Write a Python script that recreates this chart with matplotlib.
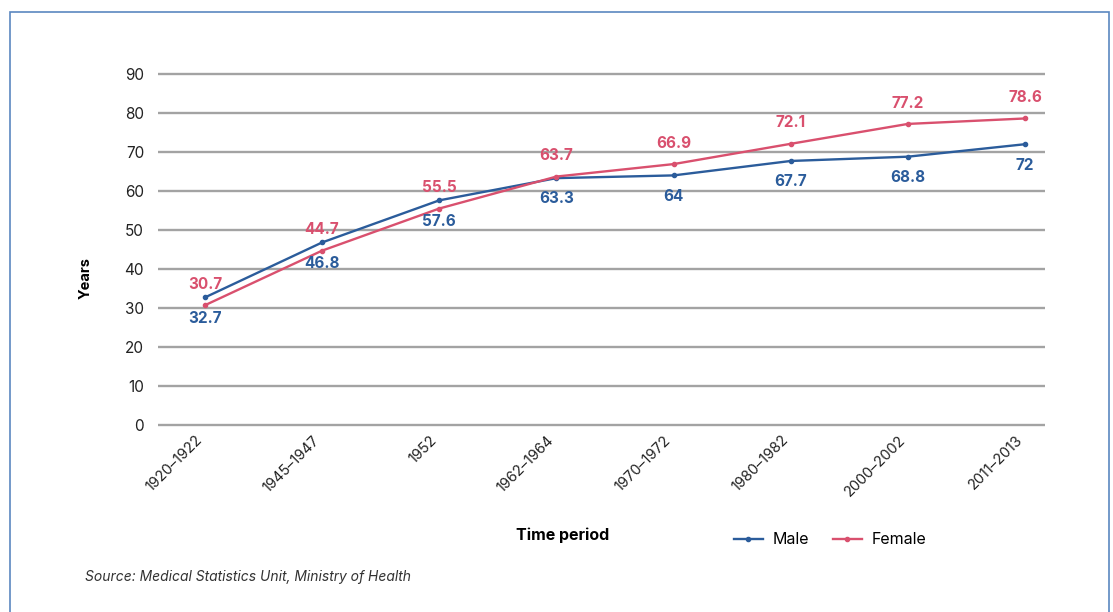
import matplotlib
matplotlib.use('Agg')
import matplotlib.pyplot as plt
from matplotlib.patches import Rectangle

periods = ['1920–1922', '1945–1947', '1952', '1962–1964', '1970–1972',
           '1980–1982', '2000–2002', '2011–2013']
male = [32.7, 46.8, 57.6, 63.3, 64, 67.7, 68.8, 72]
female = [30.7, 44.7, 55.5, 63.7, 66.9, 72.1, 77.2, 78.6]
yticks = [0, 10, 20, 30, 40, 50, 60, 70, 80, 90]

MALE_C = '#2b5c9b'
FEMALE_C = '#d9506e'

plt.rcParams['font.family'] = ['Inter', 'DejaVu Sans']

W, H = 1113, 612
fig = plt.figure(figsize=(W / 100, H / 100), dpi=100)
ax = fig.add_axes([158 / W, 1 - 428.9 / H, 887 / W, 358.8 / H])

x = list(range(len(periods)))
ax.plot(x, male, color=MALE_C, lw=1.7, marker='o', ms=3, label='Male', zorder=3)
ax.plot(x, female, color=FEMALE_C, lw=1.7, marker='o', ms=3, label='Female', zorder=3)

# value labels: female above, male below
for i in x:
    ax.annotate('%g' % female[i], (i, female[i]), xytext=(0, 15), textcoords='offset points',
                ha='center', va='center', color=FEMALE_C, fontsize=11, fontweight='bold')
    ax.annotate('%g' % male[i], (i, male[i]), xytext=(0, -15), textcoords='offset points',
                ha='center', va='center', color=MALE_C, fontsize=11, fontweight='bold')

ax.set_xlim(-0.4, 7.17)
ax.set_ylim(-1, 91)
ax.set_yticks(yticks)
ax.set_xticks(x)
ax.set_xticklabels(periods, rotation=45, ha='right', fontsize=10.5)
ax.tick_params(axis='both', length=0, colors='#222222')
ax.tick_params(axis='y', pad=10, labelsize=11)
ax.tick_params(axis='x', pad=3)
for s in ax.spines.values():
    s.set_visible(False)
for t in yticks:
    ax.axhline(t, color='#a3a3a3', lw=1.7, zorder=1)

fig.text(86 / W, 1 - 278 / H, 'Years', rotation=90, ha='center', va='center',
         fontsize=10.5, fontweight='bold')
fig.text(563 / W, 1 - 535 / H, 'Time period', ha='center', va='center',
         fontsize=11.5, fontweight='bold')
fig.legend(loc='center', bbox_to_anchor=(830 / W, 1 - 540 / H), ncol=2, frameon=False,
           fontsize=11.5, handlelength=1.8, columnspacing=1.5, handletextpad=0.6)
fig.text(85 / W, 1 - 577 / H, 'Source: Medical Statistics Unit, Ministry of Health',
         ha='left', va='center', fontsize=10, style='italic', color='#333333')

fig.patches.append(Rectangle((10 / W, -0.02), 1099 / W, 1 - 12 / H + 0.02,
                             transform=fig.transFigure, fill=False,
                             edgecolor='#5b87c0', lw=1.2))

fig.savefig('out.png', dpi=100)
